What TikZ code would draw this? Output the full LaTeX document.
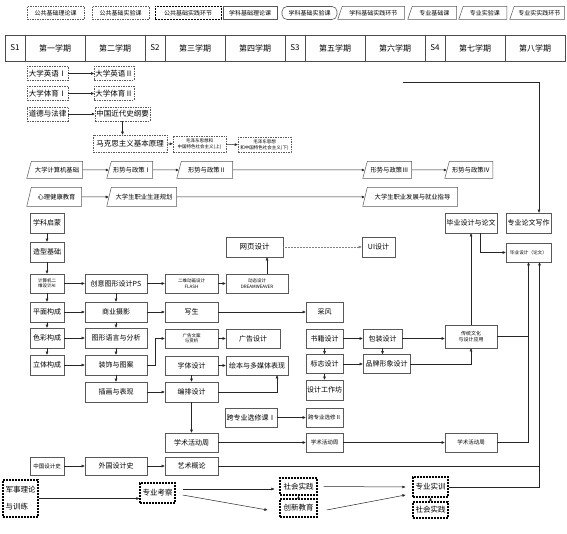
\documentclass[tikz,border=0pt]{standalone}
\usepackage{fontspec}
\setmainfont{Noto Sans CJK SC}
\usetikzlibrary{arrows.meta,shapes.geometric}

\tikzset{
  pub/.style={draw=gray!70!black, dash pattern=on 1.5pt off 1pt, line width=0.5pt, inner sep=1pt, minimum height=14pt, font=\fontsize{7.5}{8}\selectfont},
  pubprac/.style={draw=black, line width=1.2pt, dash pattern=on 2pt off 1pt, inner sep=1pt, font=\fontsize{7.5}{9}\selectfont},
  subj/.style={draw=gray!70!black, line width=0.6pt, inner sep=1pt, minimum height=19pt, font=\fontsize{7}{8}\selectfont},
  tiny/.style={subj, align=center, font=\fontsize{4.5}{5.5}\selectfont},
  card/.style={trapezium, trapezium left angle=60, trapezium right angle=90, trapezium stretches body, draw=gray!70!black, line width=0.5pt, inner sep=1pt, minimum height=17pt, anchor=east, font=\fontsize{6.3}{7}\selectfont},
  sem/.style={draw=gray!60!black, line width=0.5pt, minimum height=26pt, inner sep=0pt, font=\fontsize{8}{9}\selectfont},
  lg/.style={minimum height=13pt, font=\fontsize{6}{7}\selectfont},
  arr/.style={-{Triangle[length=3pt,width=2.6pt]}, draw=gray!30!black, line width=0.5pt},
  ln/.style={draw=gray!30!black, line width=0.5pt},
}

\begin{document}
\begin{tikzpicture}[x=1pt,y=-1pt]
        \useasboundingbox (0,0) rectangle (567,534);

        % Paso 1: Leyenda de tipos de curso
        \node[pub, lg, minimum width=57pt] (lgA) at (55.5,13) {公共基础理论课};
        \node[pub, lg, minimum width=57pt] (lgB) at (120.5,13) {公共基础实验课};
        \node[pubprac, lg, line width=0.8pt, minimum width=66pt] (lgC) at (188,13) {公共基础实践环节};
        \node[subj, lg, minimum width=54pt] (lgD) at (250,13) {学科基础理论课};
        \node[subj, lg, rounded corners=5pt, minimum width=55pt] (lgE) at (309.5,13) {学科基础实验课};
        \node[card, lg, minimum width=67pt] (lgF) at (405,13) {学科基础实践环节};
        \node[card, lg, minimum width=49pt] (lgG) at (457,13) {专业基础课};
        \node[card, lg, minimum width=48pt] (lgH) at (507,13) {专业实验课};
        \node[card, lg, minimum width=55pt] (lgI) at (565,13) {专业实实践环节};

        % Paso 2: Fila de semestres
        \node[sem, minimum width=20pt] (s1) at (15,48) {S1};
        \node[sem, minimum width=60pt] (t1) at (55,48) {第一学期};
        \node[sem, minimum width=60pt] (t2) at (115,48) {第二学期};
        \node[sem, minimum width=20pt] (s2) at (155,48) {S2};
        \node[sem, minimum width=60pt] (t3) at (195,48) {第三学期};
        \node[sem, minimum width=60pt] (t4) at (255,48) {第四学期};
        \node[sem, minimum width=20pt] (s3) at (295,48) {S3};
        \node[sem, minimum width=60pt] (t5) at (335,48) {第五学期};
        \node[sem, minimum width=60pt] (t6) at (395,48) {第六学期};
        \node[sem, minimum width=20pt] (s4) at (435,48) {S4};
        \node[sem, minimum width=60pt] (t7) at (475,48) {第七学期};
        \node[sem, minimum width=60pt] (t8) at (535,48) {第八学期};

        % Paso 3: Cursos públicos (punteados)
        \node[pub, minimum width=41pt] (yy1) at (47.5,73.5) {大学英语Ⅰ};
        \node[pub, minimum width=38pt] (yy2) at (114,73.5) {大学英语Ⅱ};
        \node[pub, minimum width=41pt] (ty1) at (47.5,93.5) {大学体育Ⅰ};
        \node[pub, minimum width=38pt] (ty2) at (114,93.5) {大学体育Ⅱ};
        \node[pub, minimum width=41pt] (dd) at (47.5,114) {道德与法律};
        \node[pub, minimum width=55pt] (zgjd) at (122.5,114) {中国近代史纲要};
        \node[pub, minimum width=74pt, minimum height=17pt] (mks) at (130,143.5) {马克思主义基本原理};
        \node[pub, align=center, minimum width=53pt, minimum height=16pt, font=\fontsize{4.5}{5.5}\selectfont] (mao1) at (199.5,144) {毛泽东思想和\\中国特色社会主义(上)};
        \node[pub, align=center, minimum width=53pt, minimum height=15pt, font=\fontsize{4.5}{5.5}\selectfont] (mao2) at (264.5,145) {毛泽东思想\\和中国特色社会主义(下)};

        \draw[arr] (yy1) -- (yy2);
        \draw[arr] (ty1) -- (ty2);
        \draw[arr] (dd) -- (zgjd);
        \draw[arr] (zgjd.south) -- (zgjd.south |- mks.north);
        \draw[arr] (mks) -- (mao1);
        \draw[arr] (mao1) -- (mao2);

        % Paso 4: Cursos con esquina cortada
        \node[card, minimum width=56pt] (jsj) at (83,170) {大学计算机基础};
        \node[card, minimum width=46pt] (xs1) at (153,170) {形势与政策Ⅰ};
        \node[card, minimum width=56pt] (xs2) at (233,170) {形势与政策Ⅱ};
        \node[card, minimum width=49pt] (xs3) at (412,170) {形势与政策Ⅲ};
        \node[card, minimum width=48pt] (xs4) at (493,170) {形势与政策Ⅳ};
        \node[card, minimum width=55pt, minimum height=19pt] (xl) at (82,197) {心理健康教育};
        \node[card, minimum width=70pt, minimum height=19pt] (sy) at (177,197) {大学生职业生涯规划};
        \node[card, minimum width=95pt, minimum height=19pt] (jy) at (458,197) {大学生职业发展与就业指导};

        \draw[arr] (jsj) -- (xs1);
        \draw[arr] (xs1) -- (xs2);
        \draw[arr] (xs2) -- (xs3);
        \draw[arr] (xs3) -- (xs4);
        \draw[arr] (xl) -- (sy);
        \draw[arr] (sy) -- (jy);

        % Paso 5: Columna de graduación
        \node[subj, minimum width=52pt, minimum height=20pt] (bylw) at (471,223) {毕业设计与论文};
        \node[subj, minimum width=45pt, minimum height=20pt] (lwxz) at (528.5,223) {专业论文写作};
        \node[subj, minimum width=45pt, font=\fontsize{4.6}{5.5}\selectfont] (bysj) at (528.5,252.5) {毕业设计（论文）};
        \coordinate (c0) at (403,82);
        \coordinate (r2) at ([xshift=11pt]bysj.south);

        \draw[arr] (c0) -| ([xshift=10.5pt]lwxz.north);
        \draw[arr] ([xshift=9pt]bylw.south) |- (bysj.west);

        % Paso 6: Cursos de la disciplina
        \node[subj, minimum width=34pt, minimum height=20pt] (xkqm) at (47,223) {学科启蒙};
        \node[subj, minimum width=34pt, minimum height=20pt] (zxjc) at (47,252) {造型基础};
        \node[tiny, minimum width=34pt] (ai) at (47,283.5) {计算机二\\维设计AI};
        \node[subj, minimum width=34pt, minimum height=20pt] (pm) at (47,312) {平面构成};
        \node[subj, minimum width=34pt, minimum height=20pt] (sc) at (47,338) {色彩构成};
        \node[subj, minimum width=34pt, minimum height=20pt] (lt) at (47,365) {立体构成};

        \node[subj, minimum width=62pt] (ps) at (116,283.5) {创意图形设计PS};
        \node[subj, minimum width=62pt, minimum height=20pt] (sysy) at (116,312) {商业摄影};
        \node[subj, minimum width=62pt, minimum height=20pt] (txyy) at (116,338) {图形语言与分析};
        \node[subj, minimum width=62pt, minimum height=20pt] (zsta) at (116,365) {装饰与图案};
        \node[subj, minimum width=62pt, minimum height=20pt] (chbx) at (116,392) {插画与表现};

        \node[tiny, minimum width=53pt] (flash) at (191.5,283.5) {二维动画设计\\FLASH};
        \node[subj, minimum width=53pt, minimum height=20pt] (xsh) at (191.5,312) {写生};
        \node[tiny, minimum width=53pt] (ggwa) at (191.5,338.5) {广告文案\\与赏析};
        \node[subj, minimum width=53pt] (ztsj) at (191.5,365.5) {字体设计};
        \node[subj, minimum width=53pt, minimum height=20pt] (bpsj) at (191.5,392) {编排设计};
        \node[subj, minimum width=53pt] (xshd1) at (191.5,442.5) {学术活动周};

        \node[tiny, minimum width=62pt] (dw) at (257,283.5) {动态设计\\DREAMWEAVER};
        \node[subj, minimum width=57pt, minimum height=20pt, font=\fontsize{7.5}{8}\selectfont] (wy) at (254.5,247) {网页设计};
        \node[subj, minimum width=54pt] (ggsj) at (253,338.5) {广告设计};
        \node[subj, minimum width=62pt] (hb) at (257,365.5) {绘本与多媒体表现};
        \node[subj, minimum width=52pt] (kz1) at (251,417.5) {跨专业选修课Ⅰ};

        \node[subj, minimum width=33pt, minimum height=20pt] (ui) at (378.5,247) {UI设计};
        \node[subj, minimum width=37pt, minimum height=20pt] (cf) at (324.5,312) {采风};
        \node[subj, minimum width=37pt] (sjsj) at (324.5,338.5) {书籍设计};
        \node[subj, minimum width=37pt] (bzsj) at (324.5,364) {标志设计};
        \node[subj, minimum width=37pt, minimum height=20pt] (gzf) at (324.5,390) {设计工作坊};
        \node[subj, minimum width=37pt, font=\fontsize{5.5}{6}\selectfont] (kz2) at (324.5,417.5) {跨专业选修Ⅱ};
        \node[subj, minimum width=37pt, font=\fontsize{5.5}{6}\selectfont] (xshd2) at (324.5,442.5) {学术活动周};

        \node[subj, minimum width=39pt] (bz) at (382.5,338.5) {包装设计};
        \node[subj, minimum width=47pt] (pp) at (386.5,364) {品牌形象设计};

        \node[tiny, minimum width=52pt, minimum height=23pt, font=\fontsize{5}{6.5}\selectfont] (ct) at (471,336.5) {传统文化\\与设计应用};
        \node[subj, minimum width=52pt, font=\fontsize{5.5}{6}\selectfont] (xshd3) at (471,442.5) {学术活动周};

        \node[subj, minimum width=34pt, minimum height=18pt, font=\fontsize{5.5}{6}\selectfont] (zgsj) at (47,466) {中国设计史};
        \node[subj, minimum width=62pt, minimum height=18pt] (wgsj) at (116,466) {外国设计史};
        \node[subj, minimum width=53pt, minimum height=18pt] (yshl) at (191.5,466) {艺术概论};

        % Paso 7: Conexiones de la disciplina
        \draw[arr] (xkqm) -- (zxjc);
        \draw[arr] (zxjc) -- (ai);
        \draw[arr] (ai) -- (pm);
        \draw[arr] (pm) -- (sc);
        \draw[arr] (sc) -- (lt);
        \draw[arr] (ai) -- (ps);
        \draw[arr] (ps) -- (flash);
        \draw[arr] (flash) -- (dw);
        \draw[arr] ([xshift=10pt]dw.north) -- ([xshift=10pt]dw.north |- wy.south);
        \draw[arr, densely dotted, draw=gray] (wy) -- (ui);
        \draw[arr] (ps) -- (sysy);
        \draw[arr] (sysy) -- (txyy);
        \draw[arr] (txyy) -- (zsta);
        \draw[arr] (zsta) -- (chbx);
        \draw[arr] (pm) -- (sysy);
        \draw[arr] (sc) -- (txyy);
        \draw[arr] (lt) -- (zsta);
        \draw[arr] (sysy) -- (xsh);
        \draw[arr] (xsh) -- (cf);
        \draw[arr] (zsta.east) -- ++(8,0) |- (ggwa.west);
        \draw[arr] (ggwa) -- (ggsj);
        \draw[arr] (ztsj) -- (hb);
        \draw[arr] (ztsj) -- (bpsj);
        \draw[arr] (chbx) -- (bpsj);
        \draw[arr] (bpsj.east) -| ([xshift=20pt]hb.south);
        \draw[arr] (bpsj) -- (xshd1);
        \draw[arr] (sjsj) -- (bz);
        \draw[arr] (sjsj) -- (bzsj);
        \draw[arr] (bzsj) -- (pp);
        \draw[arr] (bz.south) -- (bz.south |- pp.north);
        \draw[arr] (bzsj) -- (gzf);
        \draw[arr] (bz.east) -- (bz.east -| ct.west);
        \draw[arr] (pp.east) -| (ct.south);
        \draw[arr] (ct) -- (bylw);
        \draw[ln] (ct.east) -- (ct.east -| bysj.south);
        \draw[arr] (kz1) -- (kz2);
        \draw[arr] (xshd1) -- (xshd2);
        \draw[arr] (xshd2) -- (xshd3);
        \draw[arr] (xshd3.east) -| (bysj.south);
        \draw[arr] (zgsj) -- (wgsj);
        \draw[arr] (wgsj) -- (yshl);
        \draw[ln] (yshl.east) -- (yshl.east -| r2);

        % Paso 8: Prácticas
        \node[pubprac, align=left, minimum width=35pt, minimum height=37pt, font=\fontsize{7.5}{17}\selectfont] (js) at (20.5,498.5) {军事理论\\与训练};
        \node[pubprac, minimum width=35pt, minimum height=20pt] (zykc) at (157.5,493) {专业考察};
        \node[pubprac, minimum width=37pt, minimum height=17pt] (shsj1) at (298.5,486.5) {社会实践};
        \node[pubprac, minimum width=37pt, minimum height=18pt] (cxjy) at (298.5,508) {创新教育};
        \node[pubprac, minimum width=35pt, minimum height=20pt] (zysx) at (430.5,487) {专业实训};
        \node[pubprac, minimum width=35pt, minimum height=16pt] (shsj2) at (430.5,510) {社会实践};

        \draw[arr] (js.east) -- (js.east -| zykc.west);
        \draw[arr, shorten >=12pt] ([xshift=7pt,yshift=4pt]zykc.east) -- ([xshift=7pt,yshift=4pt]zykc.east -| shsj1.west);
        \draw[arr] ([xshift=7pt,yshift=-2pt]zykc.east) -- ([xshift=-12pt,yshift=-2pt]cxjy.west);
        \draw[arr] (cxjy) -- (shsj1);
        \draw[arr] ([xshift=6pt]shsj1.east) -- ([xshift=-7pt]zysx.west);
        \draw[arr] ([xshift=9pt,yshift=-2pt]cxjy.east) -- ([xshift=-7pt,yshift=-8pt]zysx.west);
        \draw[arr] (shsj2) -- (zysx);
        \draw[arr] (zysx.east) -| (r2);
    \end{tikzpicture}
\end{document}
